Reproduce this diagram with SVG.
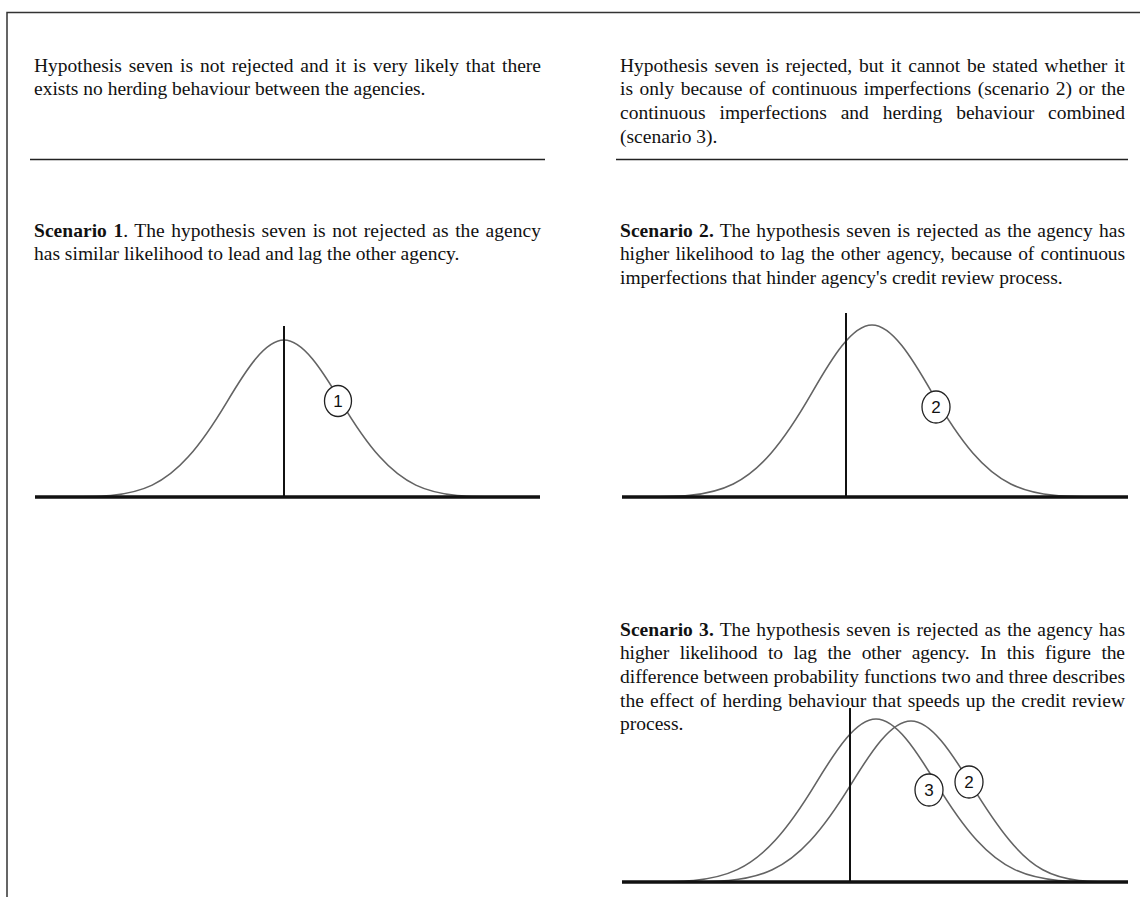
<svg xmlns="http://www.w3.org/2000/svg" width="1140" height="897" viewBox="0 0 1140 897">
<style>
.t{font-family:"Liberation Serif","Times New Roman",serif;font-size:19.5px;fill:#111}
.b{font-weight:bold}
.curve{fill:none;stroke:#636363;stroke-width:1.6}
.axis{stroke:#111;stroke-width:3.5}
.vline{stroke:#111;stroke-width:2}
.rule{stroke:#222;stroke-width:1.3}
.lbl{fill:#fff;stroke:#222;stroke-width:1.3}
.num{font-family:"Liberation Sans",Arial,sans-serif;font-size:17px;text-anchor:middle;fill:#111}
</style>
<rect width="1140" height="897" fill="#fff"/>
<g id="frame" fill="none" stroke="#333" stroke-width="1.5">
<path d="M7,897 V12.5 H1140"/>
</g>
<g id="text-left">
<text class="t" x="34" y="71.5" textLength="507" lengthAdjust="spacing" style="word-spacing:2px">Hypothesis seven is not rejected and it is very likely that there</text>
<text class="t" x="34" y="95.2">exists no herding behaviour between the agencies.</text>
<line class="rule" x1="30" y1="159.5" x2="545" y2="159.5"/>
</g>
<g id="text-right">
<text class="t" x="620" y="71.5" textLength="505" lengthAdjust="spacing" style="word-spacing:1.9px">Hypothesis seven is rejected, but it cannot be stated whether it</text>
<text class="t" x="620" y="95.2" textLength="505" lengthAdjust="spacing" style="word-spacing:1.6px">is only because of continuous imperfections (scenario 2) or the</text>
<text class="t" x="620" y="118.9" textLength="505" lengthAdjust="spacing" style="word-spacing:9px">continuous imperfections and herding behaviour combined</text>
<text class="t" x="620" y="142.5">(scenario 3).</text>
<line class="rule" x1="616" y1="159.5" x2="1128" y2="159.5"/>
</g>
<g id="scenario1">
<text class="t" x="34" y="236.5" textLength="507" lengthAdjust="spacing" style="word-spacing:1.6px"><tspan class="b">Scenario 1</tspan>. The hypothesis seven is not rejected as the agency</text>
<text class="t" x="34" y="260.2">has similar likelihood to lead and lag the other agency.</text>
</g>
<g id="scenario2">
<text class="t" x="620" y="236.5" textLength="505" lengthAdjust="spacing" style="word-spacing:1.3px"><tspan class="b">Scenario 2.</tspan> The hypothesis seven is rejected as the agency has</text>
<text class="t" x="620" y="260.2" textLength="505" lengthAdjust="spacing" style="word-spacing:1.7px">higher likelihood to lag the other agency, because of continuous</text>
<text class="t" x="620" y="283.9">imperfections that hinder agency's credit review process.</text>
</g>
<g id="scenario3">
<text class="t" x="620" y="635.5" textLength="505" lengthAdjust="spacing" style="word-spacing:1.3px"><tspan class="b">Scenario 3.</tspan> The hypothesis seven is rejected as the agency has</text>
<text class="t" x="620" y="659.2" textLength="505" lengthAdjust="spacing" style="word-spacing:5.9px">higher likelihood to lag the other agency. In this figure the</text>
<text class="t" x="620" y="682.9" textLength="505" lengthAdjust="spacing">difference between probability functions two and three describes</text>
<text class="t" x="620" y="706.6" textLength="505" lengthAdjust="spacing" style="word-spacing:1.2px">the effect of herding behaviour that speeds up the credit review</text>
<text class="t" x="620" y="730.3">process.</text>
</g>
<g id="graph1">
<path class="curve" d="M56,497 C141.5,497 170,497 227,401.8 C246,370 265,340 284,340 C303,340 322,370 341,401.8 C398,497 426.5,497 512,497"/>
<line class="vline" x1="284" y1="326" x2="284" y2="497"/>
<line class="axis" x1="35" y1="497" x2="540" y2="497"/>
<g id="label1"><ellipse class="lbl" cx="338" cy="401" rx="13.5" ry="15.5"/><text class="num" x="338" y="407">1</text></g>
</g>
<g id="graph2">
<path class="curve" d="M632,497 C722,497 752,497 812,392.7 C832,357.9 852,325 872,325 C892,325 912,357.9 932,392.7 C992,497 1022,497 1112,497"/>
<line class="vline" x1="846" y1="313" x2="846" y2="497"/>
<line class="axis" x1="622" y1="497" x2="1128" y2="497"/>
<g id="label2a"><ellipse class="lbl" cx="936" cy="407" rx="14" ry="16"/><text class="num" x="936" y="413">2</text></g>
</g>
<g id="graph3">
<path class="curve" d="M636,882 C726,882 756,882 816,783.1 C836,750.2 856,719 876,719 C896,719 916,750.2 936,783.1 C996,882 1026,882 1116,882"/>
<path class="curve" d="M671,882 C761,882 791,882 851,784.4 C871,751.8 891,721 911,721 C931,721 951,751.8 971,784.4 C1031,882 1050,882 1128,882"/>
<line class="vline" x1="850" y1="708" x2="850" y2="882"/>
<line class="axis" x1="622" y1="882" x2="1128" y2="882"/>
<g id="label3"><ellipse class="lbl" cx="929" cy="790" rx="14" ry="16"/><text class="num" x="929" y="796">3</text></g>
<g id="label2b"><ellipse class="lbl" cx="969" cy="782" rx="14" ry="16"/><text class="num" x="969" y="788">2</text></g>
</g>
</svg>
